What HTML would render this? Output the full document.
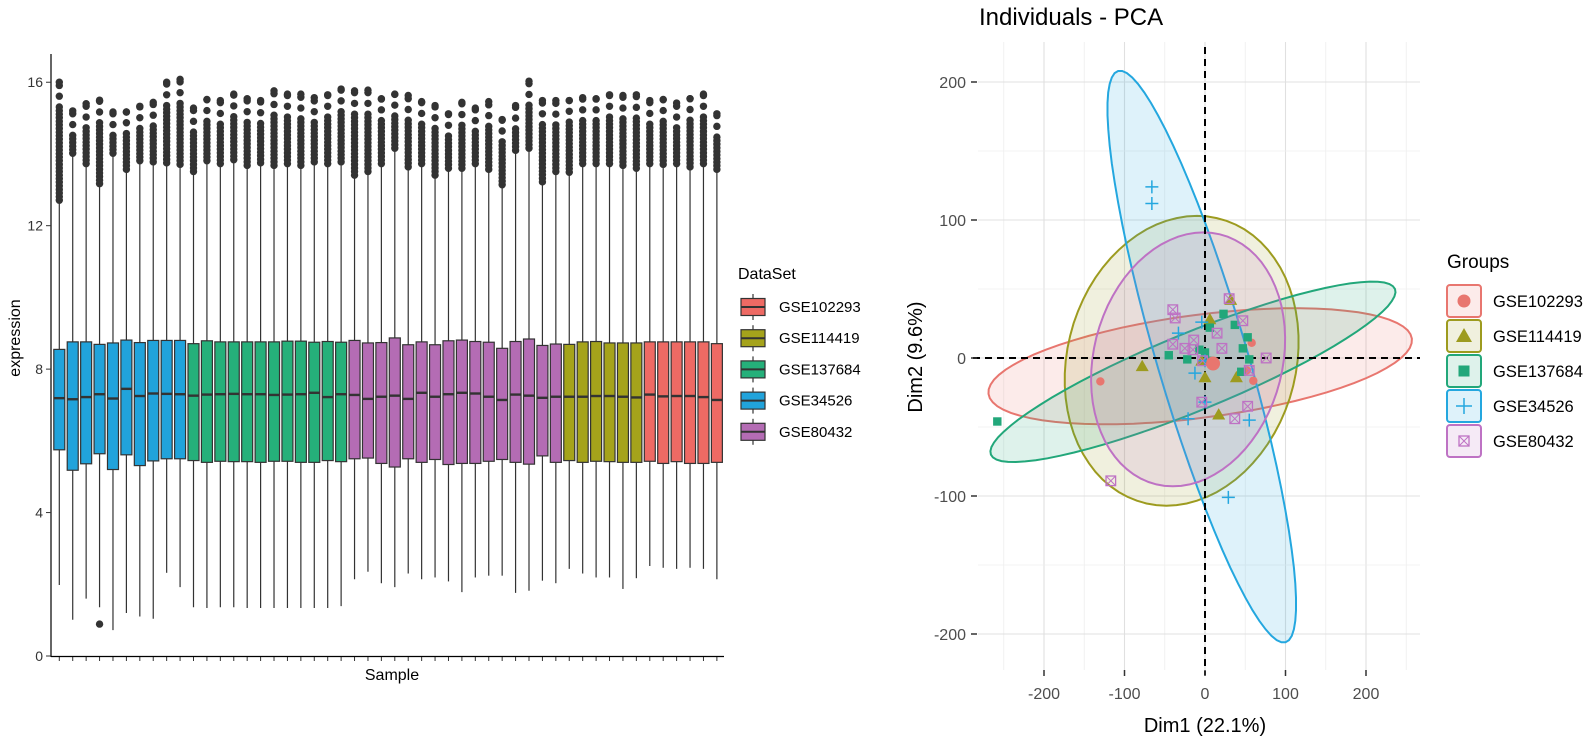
<!DOCTYPE html>
<html><head><meta charset="utf-8"><style>
body{margin:0;background:#fff;}
svg{display:block;font-family:"Liberation Sans",Arial,sans-serif;}
</style></head><body>
<svg id="svg" width="1596" height="743" viewBox="0 0 1596 743" xmlns="http://www.w3.org/2000/svg">
<g id="left"></g>
<g id="right"></g>
</svg>
<script>
// ---------- Boxplot data ----------
const groups = ["GSE34526","GSE137684","GSE80432","GSE114419","GSE102293"];
const groupCounts = [10,12,16,6,6];
const q1 = [5.75,5.18,5.36,5.64,5.20,5.61,5.31,5.44,5.50,5.50,
 5.45,5.40,5.43,5.42,5.42,5.40,5.43,5.43,5.40,5.40,5.45,5.42,
 5.50,5.52,5.37,5.27,5.50,5.40,5.48,5.34,5.37,5.37,5.43,5.48,5.40,5.35,5.58,5.40,
 5.45,5.40,5.43,5.42,5.40,5.40,
 5.43,5.37,5.42,5.37,5.37,5.40];
const med = [7.19,7.16,7.22,7.30,7.18,7.45,7.25,7.32,7.31,7.30,
 7.26,7.29,7.30,7.31,7.30,7.30,7.28,7.29,7.30,7.34,7.22,7.30,
 7.28,7.17,7.23,7.26,7.17,7.34,7.23,7.30,7.34,7.32,7.23,7.14,7.29,7.26,7.20,7.23,
 7.23,7.23,7.25,7.25,7.23,7.21,
 7.29,7.24,7.25,7.25,7.22,7.14];
const q3 = [8.55,8.76,8.76,8.69,8.73,8.81,8.74,8.80,8.80,8.80,
 8.71,8.79,8.76,8.76,8.76,8.76,8.76,8.78,8.78,8.75,8.77,8.75,
 8.80,8.73,8.74,8.87,8.68,8.76,8.68,8.79,8.81,8.77,8.75,8.58,8.77,8.84,8.66,8.70,
 8.69,8.76,8.77,8.73,8.73,8.73,
 8.76,8.76,8.76,8.76,8.76,8.71];
const lowWhisker = [1.98,1.01,1.60,1.36,0.72,1.20,1.10,1.04,2.32,1.92,
 1.36,1.34,1.36,1.36,1.34,1.34,1.34,1.34,1.34,1.34,1.34,1.39,
 2.14,2.35,2.03,1.92,2.30,2.14,2.19,2.08,1.78,2.19,2.24,2.24,1.76,1.82,2.10,2.03,
 2.43,2.30,2.19,2.19,1.87,2.17,
 2.51,2.46,2.43,2.46,2.43,2.14];
const upWhisker = [12.71,14.02,13.73,13.17,14.02,13.57,13.81,13.78,13.75,13.71,
 13.51,13.81,13.73,13.84,13.68,13.75,13.68,13.73,13.68,13.78,13.73,13.78,
 13.41,13.51,13.73,14.16,13.64,13.73,13.41,13.60,13.60,13.73,13.57,13.14,14.10,14.16,13.22,13.51,
 13.49,13.73,13.73,13.73,13.68,13.60,
 13.73,13.71,13.73,13.64,13.73,13.57];
const maxOutlier = [16.00,15.20,15.40,15.50,15.17,15.17,15.33,15.44,16.00,16.08,
 15.28,15.52,15.49,15.67,15.54,15.49,15.76,15.67,15.67,15.57,15.65,15.81,
 15.76,15.78,15.54,15.67,15.63,15.46,15.35,15.12,15.44,15.28,15.46,14.96,15.35,16.03,15.49,15.49,
 15.49,15.57,15.54,15.65,15.63,15.65,
 15.49,15.52,15.42,15.54,15.67,15.12];
const lowOutlier = [null,null,null,0.89,null,null,null,null,null,null];
const yTicks = [0,4,8,12,16];

// ---------- PCA data ----------
const pcaGroups = ["GSE102293","GSE114419","GSE137684","GSE34526","GSE80432"];
const redX=[-130,58,52,60], redY=[-17,11,-9,-16.5];
const oliveX=[-78,0,6,32,39,17,-4], oliveY=[-6,-14,28,42,-14,-41,-2];
const greenX=[-258,-45,-22,-7,6,23,37,53,47,55,45,0,4], greenY=[-46,2,-1,6,22,32,24,15,7,-1,-10,4,-2];
const blueX=[-66,-66,-33,-12.5,0,-21,55,29,-4,0], blueY=[124,112,18,-11,-32,-44,-45,-101,26,-2];
const purpleX=[-40,-37,-14,-40,-25,-15,15,21,30,47,55,76,-4,53,37,-117,-3], purpleY=[35,29,13,10,7,6,18,7,43,27,-9,0,-32,-35,-44,-89,-2];
const centroidX=[10], centroidY=[-4];
// ellipses: center, conjugate half-axis vectors (data units)
const ellCx=[-6,-29,-15,-4,-21], ellCy=[-6,-2,-10,1,-1];
const ellUx=[263,144,251,-104,119], ellUy=[20,0,60,207,0];
const ellVx=[8,19,18,54,19], ellVy=[-37,105,-26,9,92];
const pxTicks=[-200,-100,0,100,200], pyTicks=[-200,-100,0,100,200];

const NS="http://www.w3.org/2000/svg";
function mk(parent,tag,attrs,text){const e=document.createElementNS(NS,tag);for(const k in attrs)e.setAttribute(k,attrs[k]);if(text!==undefined)e.textContent=text;parent.appendChild(e);return e;}

// ====== LEFT BOXPLOT ======
const L=document.getElementById('left');
const bColors={"GSE34526":"#21A3DB","GSE137684":"#25B07A","GSE80432":"#B46CB4","GSE114419":"#A5A31B","GSE102293":"#EE6A64"};
const yS=v=>656-v*35.86;
const xS=i=>59.3+i*13.42;
const sampleGroup=[];groupCounts.forEach((c,g)=>{for(let k=0;k<c;k++)sampleGroup.push(groups[g]);});
for(let i=0;i<q1.length;i++){
  const g=mk(L,'g',{});
  
  
  const x=xS(i),w=11;
  mk(g,'line',{x1:x,x2:x,y1:yS(lowWhisker[i]),y2:yS(q1[i]),stroke:'#333','stroke-width':1.2});
  mk(g,'line',{x1:x,x2:x,y1:yS(q3[i]),y2:yS(upWhisker[i]),stroke:'#333','stroke-width':1.2});
  let v=upWhisker[i];
  const dense=maxOutlier[i]-0.7;
  while(v<dense){mk(g,'circle',{cx:x,cy:yS(v),r:3.7,fill:'#333'});v+=0.1;}
  while(v<=maxOutlier[i]+0.01){mk(g,'circle',{cx:x,cy:yS(v),r:3.7,fill:'#333'});v+=0.3;}
  mk(g,'circle',{cx:x,cy:yS(maxOutlier[i]),r:3.7,fill:'#333'});
  if(lowOutlier[i]!=null&&lowOutlier[i]!==undefined)mk(g,'circle',{cx:x,cy:yS(lowOutlier[i]),r:3.7,fill:'#333'});
  mk(g,'rect',{x:x-w/2,y:yS(q3[i]),width:w,height:yS(q1[i])-yS(q3[i]),fill:bColors[sampleGroup[i]],stroke:'#333','stroke-width':1.2});
  mk(g,'line',{x1:x-w/2,x2:x+w/2,y1:yS(med[i]),y2:yS(med[i]),stroke:'#333','stroke-width':2.4});
  mk(L,'line',{x1:x,x2:x,y1:656,y2:661,stroke:'#333','stroke-width':1});
}
mk(L,'line',{x1:51,x2:51,y1:54,y2:657,stroke:'#000','stroke-width':1.2});
mk(L,'line',{x1:51,x2:724,y1:656.5,y2:656.5,stroke:'#000','stroke-width':1.2});
yTicks.forEach(t=>{
  mk(L,'line',{x1:46,x2:51,y1:yS(t),y2:yS(t),stroke:'#333'});
  const tx=mk(L,'text',{x:43,y:yS(t)+5,'text-anchor':'end','font-size':14,fill:'#333'},String(t));
  
});
mk(L,'text',{x:20,y:338,'text-anchor':'middle','font-size':16,fill:'#000',transform:'rotate(-90 20 338)',},'expression');
mk(L,'text',{x:392,y:680,'text-anchor':'middle','font-size':16,fill:'#000',},'Sample');
const LG=mk(L,'g',{});
mk(LG,'text',{x:738,y:279,'font-size':16,fill:'#000'},'DataSet');
["GSE102293","GSE114419","GSE137684","GSE34526","GSE80432"].forEach((n,k)=>{
  const y=307+k*31.2;
  const e=mk(LG,'g',{});
  
  
  mk(e,'line',{x1:753,x2:753,y1:y-13,y2:y+13,stroke:'#333','stroke-width':1.2});
  mk(e,'rect',{x:741,y:y-8.5,width:24,height:17,fill:bColors[n],stroke:'#333','stroke-width':1.2});
  mk(e,'line',{x1:741,x2:765,y1:y,y2:y,stroke:'#333','stroke-width':2});
  mk(e,'text',{x:779,y:y+5,'font-size':15,fill:'#000'},n);
});

// ====== RIGHT PCA ======
const R=document.getElementById('right');
const pC={"GSE102293":"#E8766F","GSE114419":"#9D9B1F","GSE137684":"#22A77A","GSE34526":"#24A7DF","GSE80432":"#BE72C4"};
const px=v=>1205+v*0.805;
const py=v=>358-v*1.38;
const panelL=978,panelR=1420,panelT=42,panelB=670;
for(let v=-250;v<=250;v+=50){
  const major=v%100===0;
  mk(R,'line',{x1:px(v),x2:px(v),y1:panelT,y2:panelB,stroke:major?'#e0e0e0':'#efefef','stroke-width':major?1.1:0.8});
}
for(let v=-200;v<=200;v+=50){
  const major=v%100===0;
  mk(R,'line',{x1:panelL,x2:panelR,y1:py(v),y2:py(v),stroke:major?'#e0e0e0':'#efefef','stroke-width':major?1.1:0.8});
}
const ellNames=pcaGroups;
for(const k of [0,1,2,3,4]){
  let d='';
  for(let s=0;s<=72;s++){const t=s/72*2*Math.PI;
    const xd=ellCx[k]+ellUx[k]*Math.cos(t)+ellVx[k]*Math.sin(t);
    const yd=ellCy[k]+ellUy[k]*Math.cos(t)+ellVy[k]*Math.sin(t);
    d+=(s?'L':'M')+px(xd).toFixed(1)+','+py(yd).toFixed(1);}
  const p=mk(R,'path',{d:d+'Z',fill:pC[ellNames[k]],'fill-opacity':0.15,stroke:pC[ellNames[k]],'stroke-width':2});
  
  
}
mk(R,'line',{x1:px(0),x2:px(0),y1:panelT+5,y2:panelB+5,stroke:'#000','stroke-width':2,'stroke-dasharray':'7,5'});
mk(R,'line',{x1:panelL-5,x2:panelR,y1:py(0),y2:py(0),stroke:'#000','stroke-width':2,'stroke-dasharray':'7,5'});
function circ(g,x,y,c,r){mk(g,'circle',{cx:x,cy:y,r:r||4.2,fill:c});}
function tri(g,x,y,c,s){s=s||6.5;mk(g,'polygon',{points:`${x},${y-s} ${x-s},${y+s*0.75} ${x+s},${y+s*0.75}`,fill:c});}
function sq(g,x,y,c,s){s=s||4.2;mk(g,'rect',{x:x-s,y:y-s,width:2*s,height:2*s,fill:c});}
function plus(g,x,y,c,s){s=s||6.5;mk(g,'path',{d:`M${x-s},${y}H${x+s}M${x},${y-s}V${y+s}`,stroke:c,'stroke-width':1.5});}
function box(g,x,y,c,s){s=s||4.8;mk(g,'rect',{x:x-s,y:y-s,width:2*s,height:2*s,fill:'none',stroke:c,'stroke-width':1.3});mk(g,'path',{d:`M${x-s},${y-s}L${x+s},${y+s}M${x+s},${y-s}L${x-s},${y+s}`,stroke:c,'stroke-width':1});}
const series=[[redX,redY,circ,"GSE102293"],[oliveX,oliveY,tri,"GSE114419"],[greenX,greenY,sq,"GSE137684"],[blueX,blueY,plus,"GSE34526"],[purpleX,purpleY,box,"GSE80432"]];
series.forEach(([xs,ys,f,n])=>{
  const g=mk(R,'g',{});
  
  
  xs.forEach((v,i)=>f(g,px(v),py(ys[i]),pC[n]));
});
centroidX.forEach((v,i)=>circ(R,px(v),py(centroidY[i]),pC["GSE102293"],7));
pxTicks.forEach(t=>{
  mk(R,'line',{x1:px(t),x2:px(t),y1:670,y2:676,stroke:'#333','stroke-width':1.5});
  const e=mk(R,'text',{x:px(t),y:699,'text-anchor':'middle','font-size':16,fill:'#4d4d4d'},String(t));
  
});
pyTicks.forEach(t=>{
  mk(R,'line',{x1:971,x2:977,y1:py(t),y2:py(t),stroke:'#333','stroke-width':1.5});
  const e=mk(R,'text',{x:966,y:py(t)+6,'text-anchor':'end','font-size':16,fill:'#4d4d4d'},String(t));
  
});
mk(R,'text',{x:1205,y:732,'text-anchor':'middle','font-size':20,fill:'#000',},'Dim1 (22.1%)');
mk(R,'text',{x:922,y:357,'text-anchor':'middle','font-size':20,fill:'#000',transform:'rotate(-90 922 357)',},'Dim2 (9.6%)');
mk(R,'text',{x:979,y:25,'font-size':24,fill:'#000',},'Individuals - PCA');
const RG=mk(R,'g',{});
mk(RG,'text',{x:1447,y:268,'font-size':19,fill:'#000'},'Groups');
series.forEach(([xs,ys,f,n],k)=>{
  const y=301+k*35;
  const e=mk(RG,'g',{});
  
  
  mk(e,'rect',{x:1447,y:y-16,width:34,height:32,rx:3,fill:pC[n],'fill-opacity':0.15,stroke:pC[n],'stroke-width':2});
  f(e,1464,y,pC[n],f===circ?6.5:(f===tri?8:(f===sq?5.5:(f===plus?8:5))));
  mk(e,'text',{x:1493,y:y+6,'font-size':16.5,fill:'#000'},n);
});
</script>
</body></html>
